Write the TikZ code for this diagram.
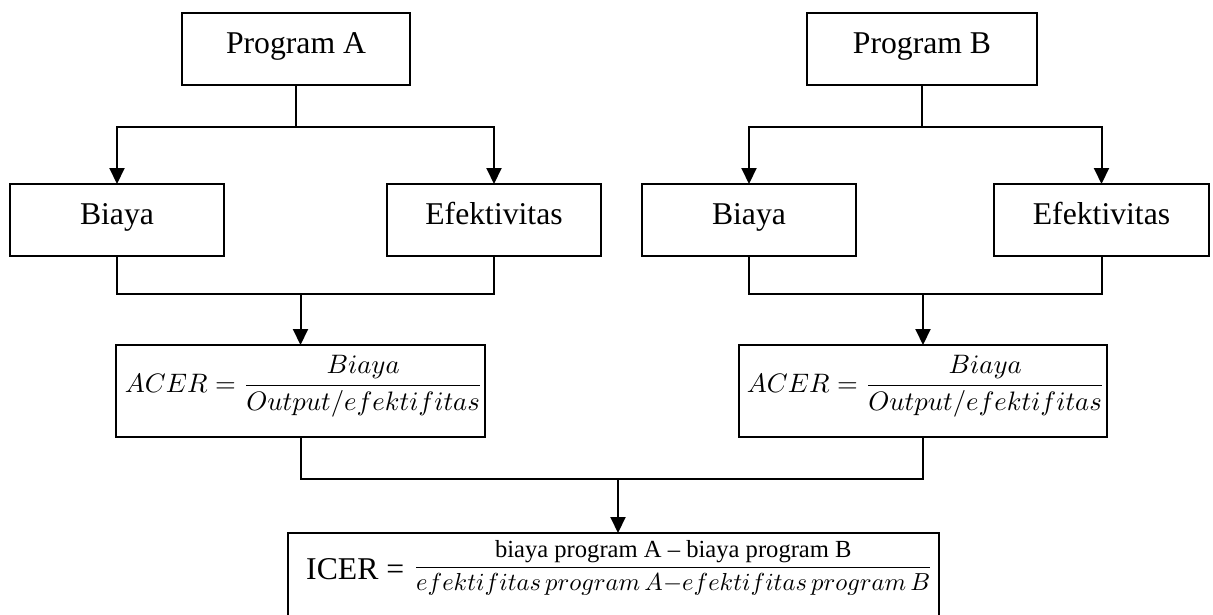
\documentclass[tikz,border=0pt]{standalone}
\usepackage{amsmath}
\usepackage{graphicx}
\usepackage{fontspec}
\setmainfont{Liberation Serif}
\usetikzlibrary{arrows.meta}
\begin{document}
\begin{tikzpicture}[x=1pt,y=-1pt,
  box/.style={draw, line width=2.2pt, inner xsep=2pt, inner ysep=0pt, outer sep=0pt,
    text height=40pt, text depth=32pt, anchor=north west,
    font=\fontsize{31.7}{38}\selectfont},
  plainbox/.style={draw, line width=2.2pt, inner sep=0pt, outer sep=0pt, anchor=north west},
  formula/.style={inner sep=0pt},
  conn/.style={line width=2pt},
  arr/.style={conn, -{Triangle[length=16pt,width=15pt]}}]
\useasboundingbox (0,0) rectangle (1213,614);
\clip (0,0) rectangle (1213,614);

% top level
\node[box, minimum width=228pt] (progA) at (182,13) {Program A};
\node[box, minimum width=230pt] (progB) at (807,13) {Program B};

% second level
\node[box, minimum width=214pt] (biayaA) at (10,184) {Biaya};
\node[box, minimum width=214pt] (efekA) at (387,184) {Efektivitas};
\node[box, minimum width=214pt] (biayaB) at (642,184) {Biaya};
\node[box, minimum width=215pt] (efekB) at (994,184) {Efektivitas};

% ACER boxes
\node[plainbox, minimum width=369pt, minimum height=92pt] (acerA) at (116,345) {};
\node[plainbox, minimum width=368pt, minimum height=92pt] (acerB) at (739,345) {};
\node[formula, anchor=base] (acerAtext) at (304,392)
  {\scalebox{2.67}{\fontsize{10}{12}\selectfont$\displaystyle ACER=\frac{Biaya}{Output/efektifitas}$}};
\node[formula, anchor=base] (acerBtext) at (926,392)
  {\scalebox{2.67}{\fontsize{10}{12}\selectfont$\displaystyle ACER=\frac{Biaya}{Output/efektifitas}$}};

% ICER box
\node[plainbox, minimum width=651pt, minimum height=100pt] (icer) at (288,533) {};
\node[formula, anchor=base west] (icertext) at (306,574)
  {\raisebox{-5pt}{\fontsize{31.7}{38}\selectfont ICER =}\hspace{9pt}%
   \scalebox{2.46}{\fontsize{10}{12}\selectfont$\displaystyle\frac{\text{biaya program A -- biaya program B}}{efektifitas\,program\,A{-}efektifitas\,program\,B}$}};

% junctions
\coordinate (jA) at (progA.south |- 0,127);
\coordinate (jB) at (progB.south |- 0,127);
\coordinate (mA) at (acerA.north |- 0,294);
\coordinate (mB) at (acerB.north |- 0,294);
\coordinate (mI) at (618,479);

% connectors program -> biaya / efektivitas
\draw[conn] (progA.south) -- (jA);
\draw[arr] (jA) -| (biayaA.north);
\draw[arr] (jA) -| (efekA.north);
\draw[conn] (progB.south) -- (jB);
\draw[arr] (jB) -| (biayaB.north);
\draw[arr] (jB) -| (efekB.north);

% biaya / efektivitas -> ACER
\draw[conn] (biayaA.south) |- (mA);
\draw[conn] (efekA.south) |- (mA);
\draw[arr] (mA) -- (acerA.north);
\draw[conn] (biayaB.south) |- (mB);
\draw[conn] (efekB.south) |- (mB);
\draw[arr] (mB) -- (acerB.north);

% ACER -> ICER
\draw[conn] (acerA.south) |- (mI);
\draw[conn] (acerB.south) |- (mI);
\draw[arr] (mI) -- (mI |- icer.north);
\end{tikzpicture}
\end{document}
